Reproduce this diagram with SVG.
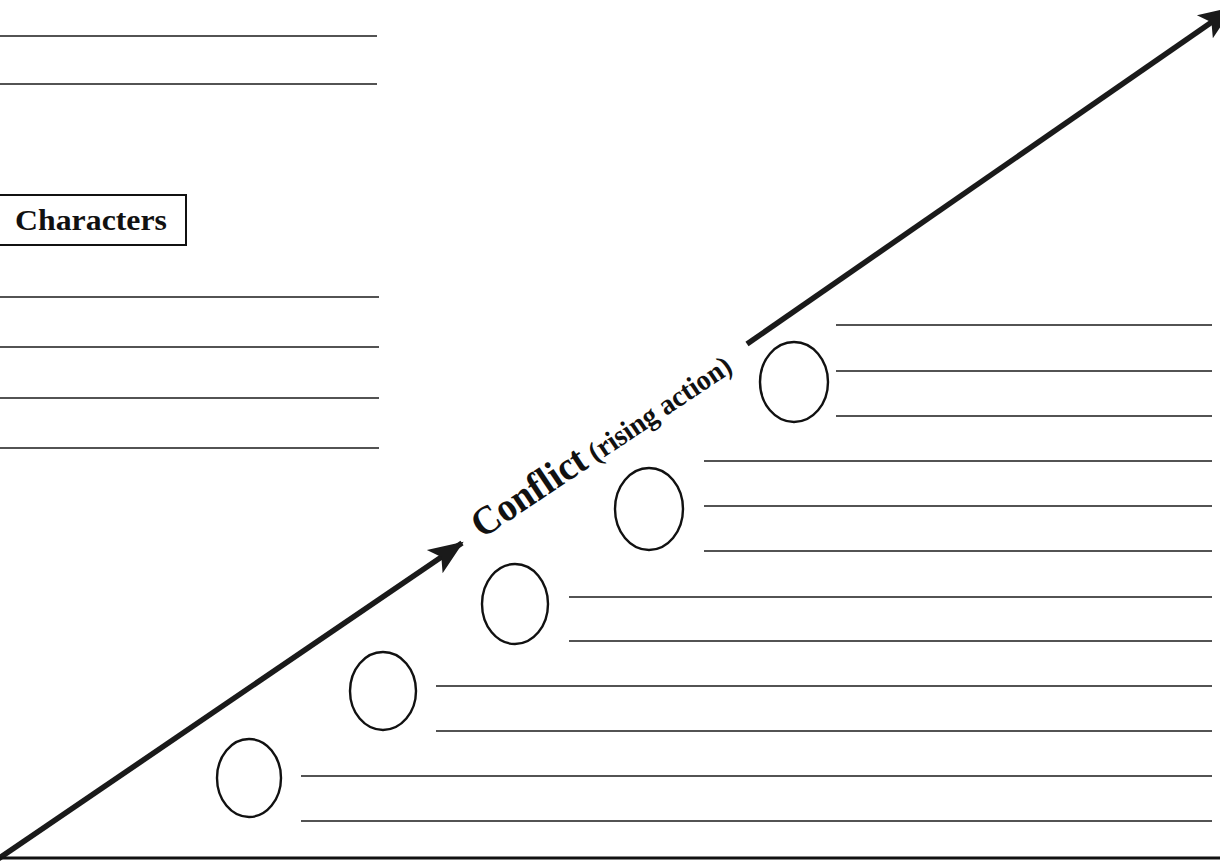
<svg xmlns="http://www.w3.org/2000/svg" width="1220" height="861" viewBox="0 0 1220 861">
<style>
.ln{stroke:#1a1a1a;stroke-width:1.6;fill:none}
.ov{stroke:#111;stroke-width:2.4;fill:none}
.ar{stroke:#1a1a1a;stroke-width:5.5;fill:none}
.t{font-family:"Liberation Serif",serif;fill:#111}
</style>
<defs>
<marker id="ah" markerUnits="userSpaceOnUse" markerWidth="36" markerHeight="30" refX="33" refY="15" orient="auto" viewBox="0 0 36 30">
<path d="M0,1 L35,15 L0,29 L8,15 Z" fill="#1a1a1a"/>
</marker>
</defs>
<rect width="1220" height="861" fill="#fff"/>
<g id="left-lines">
<line class="ln" x1="0" y1="36" x2="377" y2="36"/>
<line class="ln" x1="0" y1="84" x2="377" y2="84"/>
<line class="ln" x1="0" y1="297" x2="379" y2="297"/>
<line class="ln" x1="0" y1="347" x2="379" y2="347"/>
<line class="ln" x1="0" y1="398" x2="379" y2="398"/>
<line class="ln" x1="0" y1="448" x2="379" y2="448"/>
</g>
<g id="characters">
<rect x="-3" y="195" width="189" height="50" fill="none" stroke="#111" stroke-width="2"/>
<text class="t" x="15" y="230" font-size="30" font-weight="bold" textLength="152" lengthAdjust="spacingAndGlyphs">Characters</text>
</g>
<g id="node1">
<ellipse class="ov" cx="249" cy="778" rx="32" ry="39"/>
<line class="ln" x1="301" y1="776" x2="1212" y2="776"/>
<line class="ln" x1="301" y1="821" x2="1212" y2="821"/>
</g>
<g id="node2">
<ellipse class="ov" cx="383" cy="691" rx="33" ry="39"/>
<line class="ln" x1="436" y1="686" x2="1212" y2="686"/>
<line class="ln" x1="436" y1="731" x2="1212" y2="731"/>
</g>
<g id="node3">
<ellipse class="ov" cx="515" cy="604" rx="33" ry="40"/>
<line class="ln" x1="569" y1="597" x2="1212" y2="597"/>
<line class="ln" x1="569" y1="641" x2="1212" y2="641"/>
</g>
<g id="node4">
<ellipse class="ov" cx="649" cy="509" rx="34" ry="41"/>
<line class="ln" x1="704" y1="461" x2="1212" y2="461"/>
<line class="ln" x1="704" y1="506" x2="1212" y2="506"/>
<line class="ln" x1="704" y1="551" x2="1212" y2="551"/>
</g>
<g id="node5">
<ellipse class="ov" cx="794" cy="382" rx="34" ry="40"/>
<line class="ln" x1="836" y1="325" x2="1212" y2="325"/>
<line class="ln" x1="836" y1="371" x2="1212" y2="371"/>
<line class="ln" x1="836" y1="416" x2="1212" y2="416"/>
</g>
<g id="connectors">
<line class="ar" x1="-2" y1="859" x2="462" y2="543" marker-end="url(#ah)"/>
<line class="ar" x1="747" y1="344" x2="1232" y2="8" marker-end="url(#ah)"/>
<line x1="0" y1="858" x2="1220" y2="858" stroke="#111" stroke-width="3"/>
</g>
<g id="conflict-label">
<text class="t" transform="translate(482,539) rotate(-33.8)" font-size="40" font-weight="bold" textLength="130" lengthAdjust="spacingAndGlyphs">Conflict</text>
<text class="t" transform="translate(596,463) rotate(-33.8)" font-size="29" font-weight="bold" textLength="166" lengthAdjust="spacingAndGlyphs">(rising action)</text>
</g>
</svg>
